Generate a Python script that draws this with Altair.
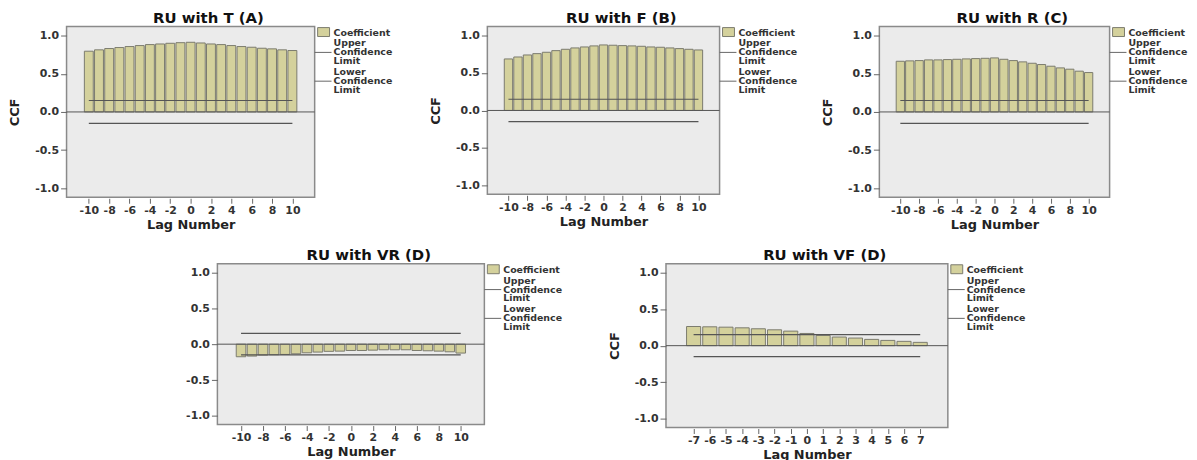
import altair as alt
import pandas as pd

FONT = "DejaVu Sans"
BAR_FILL = "#d4d19c"
BAR_STROKE = "#7b7b6e"
LINE_COLOR = "#555555"
PANEL_BG = "#ebebeb"

# ---------------- data ----------------
lags10 = list(range(-10, 11))
lags7 = list(range(-7, 8))

ccf_t = [0.797, 0.815, 0.832, 0.845, 0.858, 0.871, 0.884, 0.892, 0.901, 0.909, 0.914,
         0.905, 0.892, 0.884, 0.871, 0.858, 0.849, 0.836, 0.828, 0.815, 0.806]
ccf_f = [0.688, 0.714, 0.741, 0.759, 0.777, 0.799, 0.817, 0.835, 0.848, 0.862, 0.875,
         0.871, 0.866, 0.862, 0.857, 0.848, 0.844, 0.835, 0.826, 0.817, 0.808]
ccf_r = [0.665, 0.670, 0.674, 0.683, 0.683, 0.687, 0.691, 0.696, 0.700, 0.704, 0.709,
         0.691, 0.674, 0.657, 0.639, 0.622, 0.600, 0.578, 0.561, 0.535, 0.517]
ccf_vr = [-0.175, -0.166, -0.152, -0.147, -0.143, -0.134, -0.120, -0.110, -0.100, -0.097, -0.088,
          -0.088, -0.083, -0.078, -0.078, -0.078, -0.088, -0.092, -0.097, -0.106, -0.124]
ccf_vf = [0.262, 0.258, 0.253, 0.244, 0.231, 0.217, 0.199, 0.167, 0.140, 0.118, 0.104,
          0.086, 0.072, 0.059, 0.045]

upper_limit = [0.15, 0.15, 0.15, 0.15, 0.15]
lower_limit = [-0.15, -0.15, -0.15, -0.15, -0.15]

titles = ["RU with T (A)", "RU with F (B)", "RU with R (C)", "RU with VR (D)", "RU with VF (D)"]
ticks10 = [-10, -8, -6, -4, -2, 0, 2, 4, 6, 8, 10]
ticks7 = list(range(-7, 8))
y_ticks = [-1.0, -0.5, 0.0, 0.5, 1.0]
legend_labels = ["Coefficient", ["Upper", "Confidence", "Limit"], ["Lower", "Confidence", "Limit"]]

Y_LABEL = "datum.value < 0 ? '-' + format(-datum.value, '.1f') : format(datum.value, '.1f')"
X_LABEL = "datum.value < 0 ? '-' + format(-datum.value, 'd') : format(datum.value, 'd')"


def panel(title, lags, vals, up, lo, w, h, xmax, xticks, show_ytitle=True):
    df = pd.DataFrame({"lag": lags, "ccf": vals})
    px_per_unit = w / (2 * xmax)
    bar_w = px_per_unit * 0.84
    xs = alt.Scale(domain=[-xmax, xmax], nice=False, zero=False)
    ys = alt.Scale(domain=[-1.12, 1.12], nice=False, zero=False)
    xaxis = alt.Axis(values=xticks, title="Lag Number", grid=False, labelExpr=X_LABEL,
                     labelFontSize=11, labelFont=FONT, labelFontWeight="bold",
                     titleFontSize=13, titleFont=FONT, titleFontWeight="bold",
                     tickSize=5, tickColor="#666", domain=False, labelPadding=1,
                     titlePadding=3, labelColor="#333", titleColor="#222", offset=1)
    yaxis = alt.Axis(values=y_ticks, title="CCF" if show_ytitle else None, grid=False,
                     labelExpr=Y_LABEL, labelFontSize=11, labelFont=FONT, labelFontWeight="bold",
                     titleFontSize=13, titleFont=FONT, titleFontWeight="bold",
                     tickSize=6, tickColor="#666", domain=False, labelPadding=2,
                     titlePadding=13, labelColor="#333", titleColor="#222")
    bars = alt.Chart(df).mark_bar(
        fill=BAR_FILL, stroke=BAR_STROKE, strokeWidth=1, size=bar_w
    ).encode(
        x=alt.X("lag:Q", scale=xs, axis=xaxis),
        y=alt.Y("ccf:Q", scale=ys, axis=yaxis),
        y2=alt.datum(0),
    )
    zero = alt.Chart(pd.DataFrame({"z": [0.0]})).mark_rule(
        color=LINE_COLOR, strokeWidth=1
    ).encode(y=alt.Y("z:Q", scale=ys, axis=yaxis))
    ci_df = pd.DataFrame({"lo": [min(lags)] * 2, "hi": [max(lags)] * 2, "ci": [up, lo]})
    ci = alt.Chart(ci_df).mark_rule(color=LINE_COLOR, strokeWidth=1.2).encode(
        x=alt.X("lo:Q", scale=xs, axis=xaxis), x2="hi:Q",
        y=alt.Y("ci:Q", scale=ys, axis=yaxis),
    )
    one = pd.DataFrame({"k": [0]})
    swatch = alt.Chart(one).mark_rect(fill=BAR_FILL, stroke=BAR_STROKE, strokeWidth=1).encode(
        x=alt.value(w + 3), x2=alt.value(w + 15), y=alt.value(1), y2=alt.value(10)
    )
    txt_kw = dict(align="left", baseline="middle", font=FONT, fontSize=9.5,
                  fontWeight="bold", color="#333", lineHeight=9)
    t0 = alt.Chart(one).mark_text(**txt_kw).encode(
        x=alt.value(w + 19), y=alt.value(6), text=alt.value(legend_labels[0]))
    t1 = alt.Chart(one).mark_text(**txt_kw).encode(
        x=alt.value(w + 19), y=alt.value(17), text=alt.value(legend_labels[1]))
    t2 = alt.Chart(one).mark_text(**txt_kw).encode(
        x=alt.value(w + 19), y=alt.value(46), text=alt.value(legend_labels[2]))
    l1 = alt.Chart(one).mark_rule(color="#666", strokeWidth=1).encode(
        x=alt.value(w), x2=alt.value(w + 17), y=alt.value(26))
    l2 = alt.Chart(one).mark_rule(color="#666", strokeWidth=1).encode(
        x=alt.value(w), x2=alt.value(w + 17), y=alt.value(55))
    return alt.layer(bars, zero, ci, swatch, t0, t1, t2, l1, l2).properties(
        width=w, height=h,
        view=alt.ViewBackground(fill=PANEL_BG, stroke="#8a8a8a", strokeWidth=1.5),
        title=alt.TitleParams(title, fontSize=15, font=FONT, fontWeight="bold",
                              color="#111", offset=1, dx=18),
    )


def spacer(w):
    return alt.Chart(pd.DataFrame({"k": [0]})).mark_point(opacity=0).properties(
        width=w, height=1,
        view=alt.ViewBackground(fill="transparent", stroke="transparent"),
    )


pA = panel(titles[0], lags10, ccf_t, upper_limit[0], lower_limit[0], 250, 172, 11.7, ticks10)
pB = panel(titles[1], lags10, ccf_f, upper_limit[1], lower_limit[1], 234, 169, 11.7, ticks10)
pC = panel(titles[2], lags10, ccf_r, upper_limit[2], lower_limit[2], 232, 172, 11.7, ticks10)
pD = panel(titles[3], lags10, ccf_vr, upper_limit[3], lower_limit[3], 269, 162, 11.7, ticks10,
           show_ytitle=False)
pE = panel(titles[4], lags7, ccf_vf, upper_limit[4], lower_limit[4], 284, 165, 8.4, ticks7)

top = alt.hconcat(pA, spacer(33), pB, spacer(20), pC, spacing=0)
bottom = alt.hconcat(spacer(118), pD, spacer(42), pE, spacing=0)
chart = alt.vconcat(top, bottom, spacing=15).properties(
    padding={"left": 0, "top": 0, "right": 0, "bottom": 0}
).configure_view(
    fill=PANEL_BG, stroke="#8a8a8a", strokeWidth=1.5
).configure(background="white")

chart.save("out.html", embed_options={"renderer": "svg", "actions": False})
